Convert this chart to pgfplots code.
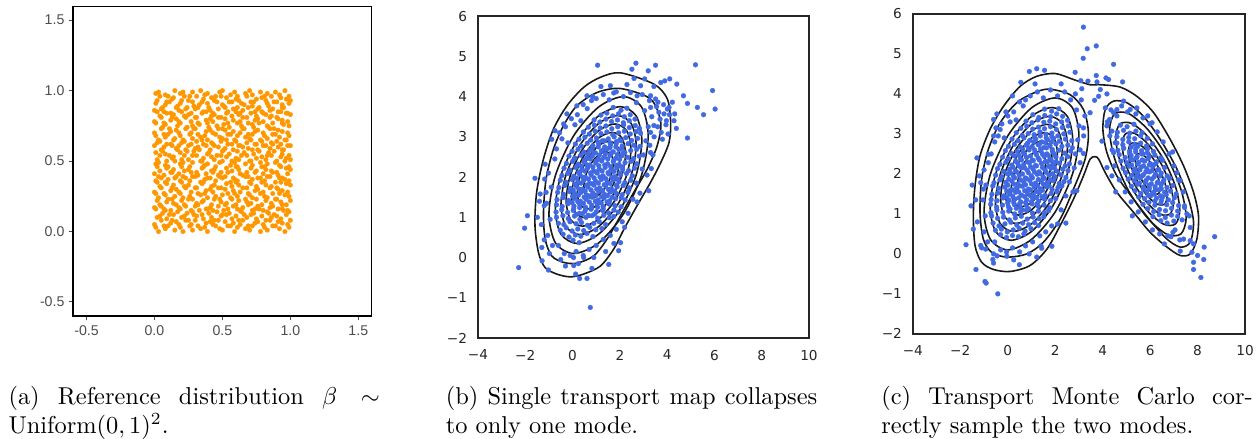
\documentclass[border=0pt]{standalone}
\usepackage{pgfplots}
\pgfplotsset{compat=1.18}
\usepackage{fontspec}
\newfontfamily\arialf{Liberation Sans}
\newfontfamily\dejavu{DejaVu Sans}
\definecolor{orng}{RGB}{255,152,0}
\definecolor{royal}{RGB}{65,105,225}
\definecolor{tickgray}{RGB}{77,77,77}
\definecolor{mplgray}{RGB}{38,38,38}
\definecolor{cline}{RGB}{25,25,25}
\pgfplotsset{
  mplaxis/.style={
    scale only axis, clip=false,
    xmin=-4, xmax=10, ymin=-2, ymax=6,
    xtick={-4,-2,0,2,4,6,8,10}, xticklabels={−4,−2,0,2,4,6,8,10},
    ytick={-2,-1,0,1,2,3,4,5,6}, yticklabels={−2,−1,0,1,2,3,4,5,6},
    major tick length=0pt,
    ticklabel style={font=\dejavu\fontsize{5.6}{6.5}\selectfont, text=mplgray},
    xticklabel style={anchor=north, inner sep=0pt, yshift=-4.7pt},
    yticklabel style={anchor=east, inner sep=0pt, xshift=-4.3pt},
    axis line style={mplgray, line width=0.55pt},
  },
  cont/.style={cline, line width=0.65pt, smooth cycle, no marks},
  bluepts/.style={only marks, royal, mark=*, mark size=1.0pt, mark options={solid, draw=royal, fill=royal, line width=0.1pt}},
}
\begin{document}
\begin{tikzpicture}
\path[use as bounding box] (0,0) rectangle (515pt,180pt);

% ---------------- panel (a)
\begin{axis}[
  at={(29.9pt,50.4pt)}, anchor=south west,
  width=122.6pt, height=127.1pt, scale only axis, clip=false,
  xmin=-0.6, xmax=1.6, ymin=-0.6, ymax=1.6,
  xtick={-0.5,0,0.5,1,1.5}, xticklabels={-0.5,0.0,0.5,1.0,1.5},
  ytick={-0.5,0,0.5,1,1.5}, yticklabels={-0.5,0.0,0.5,1.0,1.5},
  tick pos=left, tick align=outside, major tick length=1.8pt,
  tick style={tickgray, line width=0.4pt},
  ticklabel style={font=\arialf\fontsize{5.8}{7}\selectfont, text=tickgray},
  xticklabel style={inner sep=0pt, yshift=-2.0pt},
  yticklabel style={inner sep=0pt, xshift=-1.5pt},
  axis line style={black, line width=0.45pt},
]
\addplot[only marks, orng, mark=*, mark size=0.95pt, mark options={solid, draw=orng, fill=orng, line width=0.1pt}] table[row sep=\\] {
x y\\
0.01 0.03\\ 0.03 0.00\\ 0.08 0.02\\ 0.10 0.04\\ 0.15 0.01\\ 0.19 0.03\\ 0.21 0.00\\ 0.26 0.04\\ 0.28 0.01\\ 0.34 0.02\\ 0.37 0.03\\ 0.39 0.00\\ 0.45 0.04\\ 0.48 0.02\\ 0.50 0.01\\ 0.56 0.04\\ 0.59 0.00\\ 0.61 0.03\\ 0.67 0.02\\ 0.70 0.01\\ 0.72 0.04\\ 0.78 0.00\\ 0.81 0.03\\ 0.83 0.01\\ 0.89 0.04\\ 0.92 0.02\\ 0.96 0.00\\ 0.99 0.03\\
0.00 0.05\\ 0.05 0.08\\ 0.07 0.04\\ 0.12 0.06\\ 0.16 0.07\\ 0.18 0.05\\ 0.23 0.08\\ 0.27 0.05\\ 0.30 0.08\\ 0.32 0.04\\ 0.38 0.06\\ 0.41 0.07\\ 0.43 0.05\\ 0.47 0.08\\ 0.52 0.07\\ 0.54 0.04\\ 0.58 0.06\\ 0.63 0.05\\ 0.65 0.08\\ 0.69 0.04\\ 0.74 0.06\\ 0.76 0.07\\ 0.80 0.05\\ 0.85 0.08\\ 0.87 0.04\\ 0.91 0.07\\ 0.94 0.06\\ 0.98 0.05\\
0.02 0.10\\ 0.04 0.11\\ 0.09 0.09\\ 0.13 0.08\\ 0.14 0.12\\ 0.20 0.10\\ 0.22 0.11\\ 0.25 0.08\\ 0.31 0.11\\ 0.35 0.12\\ 0.36 0.09\\ 0.42 0.10\\ 0.44 0.08\\ 0.49 0.11\\ 0.53 0.12\\ 0.57 0.09\\ 0.60 0.11\\ 0.62 0.08\\ 0.68 0.10\\ 0.71 0.12\\ 0.75 0.09\\ 0.79 0.11\\ 0.82 0.08\\ 0.86 0.10\\ 0.90 0.11\\ 0.93 0.09\\ 0.97 0.12\\ 1.00 0.08\\
0.01 0.16\\ 0.06 0.13\\ 0.08 0.15\\ 0.11 0.12\\ 0.17 0.14\\ 0.19 0.16\\ 0.24 0.13\\ 0.28 0.14\\ 0.29 0.12\\ 0.33 0.15\\ 0.39 0.16\\ 0.40 0.13\\ 0.46 0.14\\ 0.50 0.12\\ 0.51 0.15\\ 0.55 0.13\\ 0.61 0.16\\ 0.64 0.14\\ 0.66 0.12\\ 0.72 0.15\\ 0.73 0.13\\ 0.77 0.16\\ 0.83 0.14\\ 0.84 0.13\\ 0.88 0.12\\ 0.94 0.16\\ 0.95 0.15\\ 0.99 0.14\\
0.00 0.17\\ 0.05 0.18\\ 0.07 0.16\\ 0.12 0.15\\ 0.16 0.19\\ 0.18 0.17\\ 0.23 0.18\\ 0.27 0.15\\ 0.30 0.18\\ 0.32 0.19\\ 0.38 0.16\\ 0.41 0.17\\ 0.43 0.15\\ 0.47 0.18\\ 0.52 0.19\\ 0.54 0.16\\ 0.58 0.18\\ 0.63 0.15\\ 0.65 0.17\\ 0.69 0.19\\ 0.74 0.16\\ 0.76 0.18\\ 0.80 0.15\\ 0.85 0.17\\ 0.87 0.18\\ 0.91 0.16\\ 0.94 0.19\\ 0.98 0.15\\
0.02 0.22\\ 0.04 0.19\\ 0.09 0.21\\ 0.13 0.23\\ 0.14 0.20\\ 0.20 0.22\\ 0.22 0.19\\ 0.25 0.23\\ 0.31 0.20\\ 0.35 0.21\\ 0.36 0.22\\ 0.42 0.19\\ 0.44 0.23\\ 0.49 0.21\\ 0.53 0.20\\ 0.57 0.23\\ 0.60 0.19\\ 0.62 0.22\\ 0.68 0.21\\ 0.71 0.20\\ 0.75 0.23\\ 0.79 0.19\\ 0.82 0.22\\ 0.86 0.20\\ 0.90 0.23\\ 0.93 0.21\\ 0.97 0.19\\ 1.00 0.22\\
0.01 0.27\\ 0.03 0.24\\ 0.08 0.26\\ 0.10 0.23\\ 0.15 0.25\\ 0.19 0.27\\ 0.21 0.24\\ 0.26 0.25\\ 0.28 0.23\\ 0.34 0.26\\ 0.37 0.27\\ 0.39 0.24\\ 0.45 0.25\\ 0.48 0.23\\ 0.50 0.26\\ 0.56 0.24\\ 0.59 0.27\\ 0.61 0.25\\ 0.67 0.23\\ 0.70 0.26\\ 0.72 0.24\\ 0.78 0.27\\ 0.81 0.25\\ 0.83 0.24\\ 0.89 0.23\\ 0.92 0.27\\ 0.96 0.26\\ 0.99 0.25\\
0.00 0.28\\ 0.05 0.31\\ 0.07 0.27\\ 0.12 0.29\\ 0.16 0.30\\ 0.18 0.28\\ 0.23 0.31\\ 0.27 0.28\\ 0.30 0.31\\ 0.32 0.27\\ 0.38 0.29\\ 0.41 0.30\\ 0.43 0.28\\ 0.47 0.31\\ 0.52 0.30\\ 0.54 0.27\\ 0.58 0.29\\ 0.63 0.28\\ 0.65 0.31\\ 0.69 0.27\\ 0.74 0.29\\ 0.76 0.30\\ 0.80 0.28\\ 0.85 0.31\\ 0.87 0.27\\ 0.91 0.30\\ 0.94 0.29\\ 0.98 0.28\\
0.02 0.35\\ 0.04 0.32\\ 0.09 0.34\\ 0.13 0.31\\ 0.14 0.33\\ 0.20 0.35\\ 0.22 0.32\\ 0.25 0.33\\ 0.31 0.31\\ 0.35 0.34\\ 0.36 0.35\\ 0.42 0.32\\ 0.44 0.33\\ 0.49 0.31\\ 0.53 0.34\\ 0.57 0.32\\ 0.60 0.35\\ 0.62 0.33\\ 0.68 0.31\\ 0.71 0.34\\ 0.75 0.32\\ 0.79 0.35\\ 0.82 0.33\\ 0.86 0.32\\ 0.90 0.31\\ 0.93 0.35\\ 0.97 0.34\\ 1.00 0.33\\
0.01 0.36\\ 0.03 0.39\\ 0.08 0.35\\ 0.10 0.37\\ 0.15 0.38\\ 0.19 0.36\\ 0.21 0.39\\ 0.26 0.36\\ 0.28 0.39\\ 0.34 0.35\\ 0.37 0.37\\ 0.39 0.38\\ 0.45 0.36\\ 0.48 0.39\\ 0.50 0.38\\ 0.56 0.35\\ 0.59 0.37\\ 0.61 0.36\\ 0.67 0.39\\ 0.70 0.35\\ 0.72 0.37\\ 0.78 0.38\\ 0.81 0.36\\ 0.83 0.39\\ 0.89 0.35\\ 0.92 0.38\\ 0.96 0.37\\ 0.99 0.36\\
0.00 0.41\\ 0.05 0.38\\ 0.07 0.40\\ 0.12 0.42\\ 0.16 0.39\\ 0.18 0.41\\ 0.23 0.38\\ 0.27 0.42\\ 0.30 0.39\\ 0.32 0.40\\ 0.38 0.41\\ 0.41 0.38\\ 0.43 0.42\\ 0.47 0.40\\ 0.52 0.39\\ 0.54 0.42\\ 0.58 0.38\\ 0.63 0.41\\ 0.65 0.40\\ 0.69 0.39\\ 0.74 0.42\\ 0.76 0.38\\ 0.80 0.41\\ 0.85 0.39\\ 0.87 0.42\\ 0.91 0.40\\ 0.94 0.38\\ 0.98 0.41\\
0.02 0.46\\ 0.04 0.43\\ 0.09 0.45\\ 0.13 0.42\\ 0.14 0.44\\ 0.20 0.46\\ 0.22 0.43\\ 0.25 0.44\\ 0.31 0.42\\ 0.35 0.45\\ 0.36 0.46\\ 0.42 0.43\\ 0.44 0.44\\ 0.49 0.42\\ 0.53 0.45\\ 0.57 0.43\\ 0.60 0.46\\ 0.62 0.44\\ 0.68 0.42\\ 0.71 0.45\\ 0.75 0.43\\ 0.79 0.46\\ 0.82 0.44\\ 0.86 0.43\\ 0.90 0.42\\ 0.93 0.46\\ 0.97 0.45\\ 1.00 0.44\\
0.01 0.48\\ 0.03 0.49\\ 0.08 0.47\\ 0.10 0.46\\ 0.15 0.50\\ 0.19 0.48\\ 0.21 0.49\\ 0.26 0.46\\ 0.28 0.49\\ 0.34 0.50\\ 0.37 0.47\\ 0.39 0.48\\ 0.45 0.46\\ 0.48 0.49\\ 0.50 0.50\\ 0.56 0.47\\ 0.59 0.49\\ 0.61 0.46\\ 0.67 0.48\\ 0.70 0.50\\ 0.72 0.47\\ 0.78 0.49\\ 0.81 0.46\\ 0.83 0.48\\ 0.89 0.49\\ 0.92 0.47\\ 0.96 0.50\\ 0.99 0.46\\
0.02 0.51\\ 0.04 0.54\\ 0.09 0.50\\ 0.13 0.52\\ 0.14 0.53\\ 0.20 0.51\\ 0.22 0.54\\ 0.25 0.51\\ 0.31 0.54\\ 0.35 0.50\\ 0.36 0.52\\ 0.42 0.53\\ 0.44 0.51\\ 0.49 0.54\\ 0.53 0.53\\ 0.57 0.50\\ 0.60 0.52\\ 0.62 0.51\\ 0.68 0.54\\ 0.71 0.50\\ 0.75 0.52\\ 0.79 0.53\\ 0.82 0.51\\ 0.86 0.54\\ 0.90 0.50\\ 0.93 0.53\\ 0.97 0.52\\ 1.00 0.51\\
0.01 0.56\\ 0.06 0.57\\ 0.08 0.55\\ 0.11 0.54\\ 0.17 0.58\\ 0.19 0.56\\ 0.24 0.57\\ 0.28 0.54\\ 0.29 0.57\\ 0.33 0.58\\ 0.39 0.55\\ 0.40 0.56\\ 0.46 0.54\\ 0.50 0.57\\ 0.51 0.58\\ 0.55 0.55\\ 0.61 0.57\\ 0.64 0.54\\ 0.66 0.56\\ 0.72 0.58\\ 0.73 0.55\\ 0.77 0.57\\ 0.83 0.54\\ 0.84 0.56\\ 0.88 0.57\\ 0.94 0.55\\ 0.95 0.58\\ 0.99 0.54\\
0.00 0.61\\ 0.05 0.58\\ 0.07 0.60\\ 0.12 0.62\\ 0.16 0.59\\ 0.18 0.61\\ 0.23 0.58\\ 0.27 0.62\\ 0.30 0.59\\ 0.32 0.60\\ 0.38 0.61\\ 0.41 0.58\\ 0.43 0.62\\ 0.47 0.60\\ 0.52 0.59\\ 0.54 0.62\\ 0.58 0.58\\ 0.63 0.61\\ 0.65 0.60\\ 0.69 0.59\\ 0.74 0.62\\ 0.76 0.58\\ 0.80 0.61\\ 0.85 0.59\\ 0.87 0.62\\ 0.91 0.60\\ 0.94 0.58\\ 0.98 0.61\\
0.02 0.63\\ 0.04 0.64\\ 0.09 0.62\\ 0.13 0.61\\ 0.14 0.65\\ 0.20 0.63\\ 0.22 0.64\\ 0.25 0.61\\ 0.31 0.64\\ 0.35 0.65\\ 0.36 0.62\\ 0.42 0.63\\ 0.44 0.61\\ 0.49 0.64\\ 0.53 0.65\\ 0.57 0.62\\ 0.60 0.64\\ 0.62 0.61\\ 0.68 0.63\\ 0.71 0.65\\ 0.75 0.62\\ 0.79 0.64\\ 0.82 0.61\\ 0.86 0.63\\ 0.90 0.64\\ 0.93 0.62\\ 0.97 0.65\\ 1.00 0.61\\
0.01 0.68\\ 0.03 0.65\\ 0.08 0.67\\ 0.10 0.69\\ 0.15 0.66\\ 0.19 0.68\\ 0.21 0.65\\ 0.26 0.69\\ 0.28 0.66\\ 0.34 0.67\\ 0.37 0.68\\ 0.39 0.65\\ 0.45 0.69\\ 0.48 0.67\\ 0.50 0.66\\ 0.56 0.69\\ 0.59 0.65\\ 0.61 0.68\\ 0.67 0.67\\ 0.70 0.66\\ 0.72 0.69\\ 0.78 0.65\\ 0.81 0.68\\ 0.83 0.66\\ 0.89 0.69\\ 0.92 0.67\\ 0.96 0.65\\ 0.99 0.68\\
0.00 0.70\\ 0.05 0.73\\ 0.07 0.69\\ 0.12 0.71\\ 0.16 0.72\\ 0.18 0.70\\ 0.23 0.73\\ 0.27 0.70\\ 0.30 0.73\\ 0.32 0.69\\ 0.38 0.71\\ 0.41 0.72\\ 0.43 0.70\\ 0.47 0.73\\ 0.52 0.72\\ 0.54 0.69\\ 0.58 0.71\\ 0.63 0.70\\ 0.65 0.73\\ 0.69 0.69\\ 0.74 0.71\\ 0.76 0.72\\ 0.80 0.70\\ 0.85 0.73\\ 0.87 0.69\\ 0.91 0.72\\ 0.94 0.71\\ 0.98 0.70\\
0.01 0.77\\ 0.06 0.74\\ 0.08 0.76\\ 0.11 0.73\\ 0.17 0.75\\ 0.19 0.77\\ 0.24 0.74\\ 0.28 0.75\\ 0.29 0.73\\ 0.33 0.76\\ 0.39 0.77\\ 0.40 0.74\\ 0.46 0.75\\ 0.50 0.73\\ 0.51 0.76\\ 0.55 0.74\\ 0.61 0.77\\ 0.64 0.75\\ 0.66 0.73\\ 0.72 0.76\\ 0.73 0.74\\ 0.77 0.77\\ 0.83 0.75\\ 0.84 0.74\\ 0.88 0.73\\ 0.94 0.77\\ 0.95 0.76\\ 0.99 0.75\\
0.00 0.78\\ 0.05 0.81\\ 0.07 0.77\\ 0.12 0.79\\ 0.16 0.80\\ 0.18 0.78\\ 0.23 0.81\\ 0.27 0.78\\ 0.30 0.81\\ 0.32 0.77\\ 0.38 0.79\\ 0.41 0.80\\ 0.43 0.78\\ 0.47 0.81\\ 0.52 0.80\\ 0.54 0.77\\ 0.58 0.79\\ 0.63 0.78\\ 0.65 0.81\\ 0.69 0.77\\ 0.74 0.79\\ 0.76 0.80\\ 0.80 0.78\\ 0.85 0.81\\ 0.87 0.77\\ 0.91 0.80\\ 0.94 0.79\\ 0.98 0.78\\
0.02 0.85\\ 0.04 0.82\\ 0.09 0.84\\ 0.13 0.81\\ 0.14 0.83\\ 0.20 0.85\\ 0.22 0.82\\ 0.25 0.83\\ 0.31 0.81\\ 0.35 0.84\\ 0.36 0.85\\ 0.42 0.82\\ 0.44 0.83\\ 0.49 0.81\\ 0.53 0.84\\ 0.57 0.82\\ 0.60 0.85\\ 0.62 0.83\\ 0.68 0.81\\ 0.71 0.84\\ 0.75 0.82\\ 0.79 0.85\\ 0.82 0.83\\ 0.86 0.82\\ 0.90 0.81\\ 0.93 0.85\\ 0.97 0.84\\ 1.00 0.83\\
0.00 0.86\\ 0.05 0.87\\ 0.07 0.85\\ 0.12 0.84\\ 0.16 0.88\\ 0.18 0.86\\ 0.23 0.87\\ 0.27 0.84\\ 0.30 0.87\\ 0.32 0.88\\ 0.38 0.85\\ 0.41 0.86\\ 0.43 0.84\\ 0.47 0.87\\ 0.52 0.88\\ 0.54 0.85\\ 0.58 0.87\\ 0.63 0.84\\ 0.65 0.86\\ 0.69 0.88\\ 0.74 0.85\\ 0.76 0.87\\ 0.80 0.84\\ 0.85 0.86\\ 0.87 0.87\\ 0.91 0.85\\ 0.94 0.88\\ 0.98 0.84\\
0.01 0.91\\ 0.06 0.88\\ 0.08 0.90\\ 0.11 0.92\\ 0.17 0.89\\ 0.19 0.91\\ 0.24 0.88\\ 0.28 0.92\\ 0.29 0.89\\ 0.33 0.90\\ 0.39 0.91\\ 0.40 0.88\\ 0.46 0.92\\ 0.50 0.90\\ 0.51 0.89\\ 0.55 0.92\\ 0.61 0.88\\ 0.64 0.91\\ 0.66 0.90\\ 0.72 0.89\\ 0.73 0.92\\ 0.77 0.88\\ 0.83 0.91\\ 0.84 0.89\\ 0.88 0.92\\ 0.94 0.90\\ 0.95 0.88\\ 0.99 0.91\\
0.02 0.93\\ 0.04 0.96\\ 0.09 0.92\\ 0.13 0.94\\ 0.14 0.95\\ 0.20 0.93\\ 0.22 0.96\\ 0.25 0.93\\ 0.31 0.96\\ 0.35 0.92\\ 0.36 0.94\\ 0.42 0.95\\ 0.44 0.93\\ 0.49 0.96\\ 0.53 0.95\\ 0.57 0.92\\ 0.60 0.94\\ 0.62 0.93\\ 0.68 0.96\\ 0.71 0.92\\ 0.75 0.94\\ 0.79 0.95\\ 0.82 0.93\\ 0.86 0.96\\ 0.90 0.92\\ 0.93 0.95\\ 0.97 0.94\\ 1.00 0.93\\
0.01 0.98\\ 0.03 0.99\\ 0.08 0.97\\ 0.10 0.96\\ 0.15 1.00\\ 0.19 0.98\\ 0.21 0.99\\ 0.26 0.96\\ 0.28 0.99\\ 0.34 1.00\\ 0.37 0.97\\ 0.39 0.98\\ 0.45 0.96\\ 0.48 0.99\\ 0.50 1.00\\ 0.56 0.97\\ 0.59 0.99\\ 0.61 0.96\\ 0.67 0.98\\ 0.70 1.00\\ 0.72 0.97\\ 0.78 0.99\\ 0.81 0.96\\ 0.83 0.98\\ 0.89 0.99\\ 0.92 0.97\\ 0.96 1.00\\ 0.99 0.96\\
};
\draw[black, line width=0.95pt] (rel axis cs:0,1) -- (rel axis cs:0,0) -- (rel axis cs:1,0);
\end{axis}

% ---------------- panel (b)
\begin{axis}[mplaxis, at={(196pt,41.4pt)}, anchor=south west, width=135.7pt, height=132pt]
\addplot[cont] coordinates {(2.03,4.59) (3.44,4.31) (4.01,3.94) (4.15,3.36) (4.08,2.86) (3.73,2.36) (3.30,1.87) (2.73,1.29) (2.17,0.70) (1.74,0.21) (1.18,-0.21) (0.47,-0.41) (-0.10,-0.48) (-0.67,-0.41) (-1.16,-0.25) (-1.44,0.12) (-1.59,0.79) (-1.52,1.62) (-1.23,2.45) (-0.81,3.19) (-0.24,3.77) (0.47,4.23) (1.18,4.48)};
\addplot[cont] coordinates {(2.03,4.20) (3.30,3.94) (3.73,3.36) (3.58,2.78) (3.16,2.20) (2.59,1.62) (2.03,1.04) (1.46,0.46) (0.89,0.04) (0.18,-0.14) (-0.38,-0.12) (-0.88,0.04) (-1.16,0.46) (-1.23,1.12) (-1.12,1.95) (-0.81,2.69) (-0.38,3.28) (0.18,3.77) (1.03,4.10)};
\addplot[cont] coordinates {(3.20,3.03) (2.92,3.74) (2.15,4.00) (1.10,3.74) (0.05,3.03) (-0.72,2.05) (-1.00,1.08) (-0.72,0.36) (0.05,0.10) (1.10,0.36) (2.15,1.08) (2.92,2.05)};
\addplot[cont] coordinates {(2.93,2.90) (2.69,3.52) (2.02,3.75) (1.10,3.52) (0.19,2.90) (-0.49,2.05) (-0.73,1.20) (-0.49,0.58) (0.19,0.35) (1.10,0.58) (2.02,1.20) (2.69,2.05)};
\addplot[cont] coordinates {(2.69,2.79) (2.48,3.33) (1.90,3.53) (1.10,3.33) (0.31,2.79) (-0.28,2.05) (-0.49,1.31) (-0.28,0.77) (0.31,0.57) (1.10,0.77) (1.90,1.31) (2.48,2.05)};
\addplot[cont] coordinates {(2.47,2.69) (2.29,3.15) (1.79,3.32) (1.10,3.15) (0.42,2.69) (-0.09,2.05) (-0.27,1.42) (-0.09,0.95) (0.42,0.78) (1.10,0.95) (1.79,1.42) (2.29,2.05)};
\addplot[cont] coordinates {(2.24,2.58) (2.09,2.97) (1.67,3.11) (1.10,2.97) (0.53,2.58) (0.11,2.05) (-0.04,1.52) (0.11,1.13) (0.53,0.99) (1.10,1.13) (1.67,1.52) (2.09,2.05)};
\addplot[cont] coordinates {(2.00,2.47) (1.88,2.78) (1.55,2.89) (1.10,2.78) (0.65,2.47) (0.32,2.05) (0.20,1.63) (0.32,1.32) (0.65,1.21) (1.10,1.32) (1.55,1.63) (1.88,2.05)};
\addplot[cont] coordinates {(1.72,2.34) (1.64,2.55) (1.41,2.63) (1.10,2.55) (0.79,2.34) (0.56,2.05) (0.48,1.76) (0.56,1.55) (0.79,1.47) (1.10,1.55) (1.41,1.76) (1.64,2.05)};
\addplot[bluepts] table[row sep=\\] {
x y\\
0.02 0.43\\ 0.28 0.37\\
-0.40 0.58\\ -0.15 0.51\\ 0.12 0.56\\ 0.35 0.53\\ 0.61 0.60\\ 0.86 0.52\\
-0.52 0.68\\ -0.27 0.74\\ -0.02 0.66\\ 0.22 0.71\\ 0.47 0.67\\ 0.73 0.75\\ 0.98 0.69\\ 1.24 0.72\\
-0.60 0.85\\ -0.37 0.82\\ -0.11 0.89\\ 0.15 0.84\\ 0.38 0.87\\ 0.63 0.80\\ 0.90 0.85\\ 1.13 0.89\\ 1.40 0.82\\
-0.68 1.00\\ -0.41 1.04\\ -0.18 0.97\\ 0.08 1.03\\ 0.31 0.95\\ 0.57 1.00\\ 0.82 1.04\\ 1.06 0.98\\ 1.32 1.05\\ 1.55 0.99\\ 1.74 1.02\\
-0.70 1.13\\ -0.46 1.19\\ -0.21 1.12\\ 0.03 1.17\\ 0.29 1.10\\ 0.52 1.15\\ 0.78 1.20\\ 1.01 1.14\\ 1.27 1.17\\ 1.52 1.11\\ 1.75 1.18\\ 1.93 1.13\\
-0.68 1.31\\ -0.44 1.27\\ -0.19 1.34\\ 0.06 1.28\\ 0.30 1.32\\ 0.55 1.25\\ 0.81 1.30\\ 1.04 1.34\\ 1.29 1.27\\ 1.55 1.33\\ 1.79 1.29\\ 2.05 1.26\\
-0.66 1.44\\ -0.40 1.49\\ -0.17 1.42\\ 0.09 1.47\\ 0.33 1.40\\ 0.58 1.45\\ 0.83 1.50\\ 1.08 1.43\\ 1.33 1.48\\ 1.57 1.41\\ 1.82 1.46\\ 2.06 1.49\\ 2.22 1.43\\
-0.63 1.62\\ -0.38 1.57\\ -0.13 1.64\\ 0.12 1.58\\ 0.36 1.62\\ 0.61 1.55\\ 0.86 1.60\\ 1.11 1.64\\ 1.35 1.57\\ 1.60 1.63\\ 1.85 1.59\\ 2.10 1.56\\ 2.34 1.62\\
-0.58 1.74\\ -0.33 1.79\\ -0.09 1.72\\ 0.16 1.77\\ 0.41 1.70\\ 0.65 1.75\\ 0.90 1.80\\ 1.15 1.73\\ 1.40 1.78\\ 1.64 1.71\\ 1.89 1.76\\ 2.14 1.79\\ 2.40 1.73\\
-0.52 1.92\\ -0.27 1.87\\ -0.02 1.94\\ 0.23 1.88\\ 0.47 1.92\\ 0.72 1.85\\ 0.97 1.90\\ 1.22 1.94\\ 1.46 1.87\\ 1.71 1.93\\ 1.96 1.89\\ 2.21 1.86\\ 2.46 1.92\\
-0.45 2.04\\ -0.20 2.09\\ 0.05 2.02\\ 0.30 2.07\\ 0.54 2.00\\ 0.79 2.05\\ 1.04 2.10\\ 1.29 2.03\\ 1.53 2.08\\ 1.78 2.01\\ 2.03 2.06\\ 2.28 2.09\\ 2.53 2.03\\
-0.36 2.22\\ -0.11 2.17\\ 0.14 2.24\\ 0.39 2.18\\ 0.63 2.22\\ 0.88 2.15\\ 1.13 2.20\\ 1.38 2.24\\ 1.62 2.17\\ 1.87 2.23\\ 2.12 2.19\\ 2.37 2.16\\ 2.62 2.22\\
-0.26 2.34\\ 0.00 2.39\\ 0.24 2.32\\ 0.49 2.37\\ 0.73 2.30\\ 0.98 2.35\\ 1.23 2.40\\ 1.48 2.33\\ 1.72 2.38\\ 1.97 2.31\\ 2.22 2.36\\ 2.47 2.39\\ 2.72 2.33\\
-0.15 2.52\\ 0.10 2.47\\ 0.35 2.54\\ 0.60 2.48\\ 0.84 2.52\\ 1.09 2.45\\ 1.34 2.50\\ 1.59 2.54\\ 1.83 2.47\\ 2.08 2.53\\ 2.33 2.49\\ 2.58 2.46\\ 2.82 2.52\\
-0.02 2.64\\ 0.23 2.69\\ 0.48 2.62\\ 0.73 2.67\\ 0.97 2.60\\ 1.22 2.65\\ 1.47 2.70\\ 1.72 2.63\\ 1.96 2.68\\ 2.21 2.61\\ 2.46 2.66\\ 2.71 2.69\\
0.12 2.82\\ 0.37 2.77\\ 0.62 2.84\\ 0.86 2.78\\ 1.11 2.82\\ 1.36 2.75\\ 1.61 2.80\\ 1.85 2.84\\ 2.10 2.77\\ 2.35 2.83\\ 2.60 2.79\\ 2.85 2.76\\
0.27 2.94\\ 0.52 2.99\\ 0.77 2.92\\ 1.01 2.97\\ 1.26 2.90\\ 1.51 2.95\\ 1.76 3.00\\ 2.00 2.93\\ 2.25 2.98\\ 2.50 2.91\\ 2.75 2.96\\
0.46 3.12\\ 0.71 3.07\\ 0.96 3.14\\ 1.20 3.08\\ 1.45 3.12\\ 1.70 3.05\\ 1.95 3.10\\ 2.19 3.14\\ 2.44 3.07\\ 2.69 3.13\\ 2.88 3.09\\
0.67 3.24\\ 0.92 3.29\\ 1.17 3.22\\ 1.41 3.27\\ 1.66 3.20\\ 1.91 3.25\\ 2.16 3.30\\ 2.40 3.23\\ 2.65 3.28\\ 2.83 3.21\\
0.91 3.42\\ 1.16 3.37\\ 1.41 3.44\\ 1.65 3.38\\ 1.90 3.42\\ 2.15 3.35\\ 2.40 3.40\\ 2.64 3.44\\
1.20 3.54\\ 1.45 3.59\\ 1.70 3.52\\ 1.94 3.57\\ 2.19 3.50\\ 2.44 3.55\\
1.72 3.73\\ 2.05 3.66\\ 2.30 3.71\\
0.15 1.07\\ 0.42 1.09\\ 0.66 1.05\\ 0.93 1.08\\
0.05 1.22\\ 0.30 1.24\\ 0.55 1.20\\ 0.80 1.23\\ 1.06 1.25\\ 1.30 1.21\\
-0.02 1.37\\ 0.22 1.39\\ 0.46 1.35\\ 0.71 1.38\\ 0.96 1.40\\ 1.21 1.36\\ 1.46 1.38\\
0.00 1.52\\ 0.25 1.55\\ 0.49 1.50\\ 0.74 1.53\\ 0.99 1.55\\ 1.23 1.51\\ 1.48 1.54\\ 1.68 1.50\\
0.03 1.67\\ 0.28 1.70\\ 0.53 1.65\\ 0.78 1.68\\ 1.02 1.70\\ 1.27 1.66\\ 1.52 1.69\\ 1.77 1.65\\
0.10 1.82\\ 0.35 1.85\\ 0.60 1.80\\ 0.84 1.83\\ 1.09 1.85\\ 1.34 1.81\\ 1.59 1.84\\ 1.84 1.80\\
0.17 1.97\\ 0.42 2.00\\ 0.67 1.95\\ 0.91 1.98\\ 1.16 2.00\\ 1.41 1.96\\ 1.66 1.99\\ 1.91 1.95\\
0.26 2.12\\ 0.51 2.15\\ 0.76 2.10\\ 1.00 2.13\\ 1.25 2.15\\ 1.50 2.11\\ 1.75 2.14\\ 2.00 2.10\\
0.37 2.27\\ 0.62 2.30\\ 0.86 2.25\\ 1.11 2.28\\ 1.36 2.30\\ 1.61 2.26\\ 1.86 2.29\\ 2.11 2.25\\
0.50 2.42\\ 0.75 2.45\\ 1.00 2.40\\ 1.24 2.43\\ 1.49 2.45\\ 1.74 2.41\\ 1.99 2.44\\
0.65 2.57\\ 0.90 2.60\\ 1.14 2.55\\ 1.39 2.58\\ 1.64 2.60\\ 1.89 2.56\\ 2.13 2.59\\
0.84 2.72\\ 1.09 2.75\\ 1.33 2.70\\ 1.58 2.73\\ 1.83 2.75\\ 2.08 2.71\\
1.08 2.87\\ 1.34 2.90\\ 1.59 2.85\\ 1.85 2.88\\ 2.05 2.90\\
-1.05 0.55\\ -0.95 0.95\\ -1.10 1.35\\ -0.90 1.75\\ -1.02 2.10\\ -0.75 2.45\\ -1.32 0.82\\ -0.85 0.30\\ -1.18 1.95\\ -0.68 2.70\\ -1.40 1.40\\ -0.98 0.10\\
-0.45 2.95\\ -0.30 3.25\\ -0.05 3.45\\ 0.20 3.55\\ 0.45 3.80\\ -0.55 3.10\\ 0.10 3.30\\ 0.62 3.70\\ 0.35 3.40\\ -0.20 2.85\\
1.00 3.95\\ 1.30 4.05\\ 1.55 3.92\\ 1.85 4.12\\ 2.15 4.00\\ 2.45 4.10\\ 2.70 3.85\\ 1.20 4.25\\ 2.30 4.30\\ 2.95 4.05\\ 0.80 3.90\\ 2.60 4.45\\
3.05 3.65\\ 3.20 3.25\\ 3.10 2.90\\ 3.00 2.55\\ 2.95 2.20\\ 2.70 1.85\\ 2.55 1.45\\ 2.35 1.10\\ 2.20 0.75\\ 3.35 3.50\\ 3.45 3.00\\ 3.40 2.55\\ 3.15 2.05\\ 2.85 1.60\\ 3.60 3.25\\ 3.55 3.75\\ 3.85 3.80\\ 3.95 3.30\\ 3.25 3.90\\ 4.10 3.55\\
-0.60 0.30\\ -0.35 0.10\\ -0.10 0.05\\ 0.15 0.15\\ 0.45 0.05\\ 0.70 0.20\\ 1.00 0.30\\ 1.30 0.45\\ 1.60 0.55\\ 1.85 0.70\\ 0.25 -0.15\\ 0.90 0.00\\ 1.40 0.15\\ -0.50 -0.05\\ 0.05 -0.20\\ 1.75 0.35\\
-1.59 1.97\\ -1.91 1.04\\ -2.03 0.73\\ -2.28 -0.25\\ -1.49 1.00\\ -1.30 0.25\\ -1.29 -0.08\\ -1.02 -0.31\\ -1.20 0.44\\ -1.12 1.62\\ -1.20 1.29\\ -1.37 1.58\\ -1.16 2.32\\ -0.88 2.94\\ -0.74 3.15\\ -0.38 3.32\\ -0.24 3.57\\ 0.18 3.77\\ 0.61 4.02\\ 0.85 4.00\\ 1.06 4.78\\ 1.60 4.27\\ 1.74 4.09\\ 2.51 4.68\\ 2.68 4.83\\ 3.20 4.64\\ 3.51 4.78\\ 3.05 4.44\\ 3.44 4.25\\ 3.73 4.35\\ 3.90 4.39\\ 4.11 4.44\\ 4.41 4.31\\ 4.69 4.02\\ 4.86 3.83\\ 5.28 3.73\\ 5.54 3.55\\ 5.20 4.79\\ 5.92 4.15\\ 6.03 3.69\\ 4.86 2.97\\ 4.39 3.21\\ 4.04 3.07\\ 3.80 2.94\\ 4.29 3.40\\ 4.32 3.57\\ 3.87 3.57\\ 4.08 3.73\\ 3.61 3.86\\ 3.30 3.73\\ 3.70 3.44\\ 3.27 2.79\\ 3.33 2.21\\ 3.22 1.66\\ 2.73 1.38\\ 2.10 0.89\\ 2.03 0.37\\ 1.95 0.17\\ 1.53 -0.17\\ 0.82 -0.27\\ 0.61 -0.52\\ 0.30 -0.52\\ 0.13 -0.41\\ 0.75 -1.24\\ 0.47 0.00\\ -0.30 -0.21\\ 0.04 0.00\\
2.88 4.27\\ 2.73 4.02\\ 3.30 4.02\\ 3.51 3.94\\ 4.01 3.69\\ 4.22 3.86\\ 3.65 3.61\\ 3.97 3.40\\ 3.44 3.28\\ 3.75 3.11\\ 3.30 3.11\\ 3.30 2.61\\
};
\end{axis}

% ---------------- panel (c)
\begin{axis}[mplaxis, at={(374.3pt,43.1pt)}, anchor=south west, width=136.2pt, height=131.2pt]
\addplot[cont] coordinates {(2.00,4.51) (2.77,4.36) (3.47,4.23) (3.90,4.23) (4.74,4.17) (5.44,3.94) (6.15,3.53) (6.85,2.86) (7.41,2.20) (7.83,1.54) (8.04,0.95) (7.97,0.37) (7.69,0.00) (7.27,-0.04) (6.71,0.17) (6.00,0.54) (5.30,1.04) (4.60,1.54) (4.11,2.03) (3.83,2.37) (3.68,2.43) (3.47,2.37) (3.19,1.95) (2.77,1.37) (2.21,0.71) (1.65,0.12) (0.94,-0.29) (0.10,-0.44) (-0.60,-0.39) (-1.10,-0.21) (-1.38,0.21) (-1.45,0.95) (-1.38,1.70) (-1.17,2.45) (-0.75,3.11) (-0.18,3.69) (0.52,4.19) (1.22,4.44)};
\addplot[cont] coordinates {(1.72,4.12) (2.63,3.98) (3.19,3.61) (3.40,3.03) (3.26,2.37) (2.77,1.62) (2.21,0.87) (1.50,0.29) (0.80,0.00) (-0.04,-0.08) (-0.68,0.04) (-1.03,0.37) (-1.17,1.04) (-1.10,1.87) (-0.82,2.61) (-0.32,3.28) (0.38,3.78) (1.08,4.02)};
\addplot[cont] coordinates {(3.00,2.95) (2.73,3.65) (2.00,3.90) (1.00,3.65) (0.00,2.95) (-0.73,2.00) (-1.00,1.05) (-0.73,0.36) (0.00,0.10) (1.00,0.36) (2.00,1.05) (2.73,2.00)};
\addplot[cont] coordinates {(2.74,2.83) (2.51,3.44) (1.87,3.66) (1.00,3.44) (0.13,2.83) (-0.51,2.00) (-0.74,1.17) (-0.51,0.56) (0.13,0.34) (1.00,0.56) (1.87,1.17) (2.51,2.00)};
\addplot[cont] coordinates {(2.52,2.72) (2.31,3.25) (1.76,3.44) (1.00,3.25) (0.24,2.72) (-0.31,2.00) (-0.52,1.28) (-0.31,0.75) (0.24,0.56) (1.00,0.75) (1.76,1.28) (2.31,2.00)};
\addplot[cont] coordinates {(2.30,2.62) (2.13,3.07) (1.65,3.24) (1.00,3.07) (0.35,2.62) (-0.13,2.00) (-0.30,1.38) (-0.13,0.93) (0.35,0.76) (1.00,0.93) (1.65,1.38) (2.13,2.00)};
\addplot[cont] coordinates {(2.09,2.52) (1.94,2.90) (1.54,3.03) (1.00,2.90) (0.46,2.52) (0.06,2.00) (-0.09,1.48) (0.06,1.10) (0.46,0.97) (1.00,1.10) (1.54,1.48) (1.94,2.00)};
\addplot[cont] coordinates {(1.86,2.41) (1.75,2.71) (1.43,2.82) (1.00,2.71) (0.57,2.41) (0.26,2.00) (0.14,1.59) (0.26,1.29) (0.57,1.18) (1.00,1.29) (1.43,1.59) (1.75,2.00)};
\addplot[cont] coordinates {(1.59,2.28) (1.51,2.49) (1.30,2.56) (1.00,2.49) (0.70,2.28) (0.49,2.00) (0.41,1.72) (0.49,1.51) (0.70,1.44) (1.00,1.51) (1.30,1.72) (1.51,2.00)};
\addplot[cont] coordinates {(4.46,3.82) (5.02,3.78) (5.72,3.44) (6.43,2.86) (7.13,2.12) (7.62,1.37) (7.83,0.79) (7.69,0.29) (7.27,0.17) (6.71,0.37) (6.01,0.83) (5.30,1.37) (4.60,1.95) (4.18,2.53) (4.01,3.11) (4.11,3.61)};
\addplot[cont] coordinates {(7.52,0.91) (7.30,1.61) (6.71,2.42) (5.90,3.11) (5.09,3.51) (4.50,3.50) (4.29,3.09) (4.50,2.39) (5.09,1.58) (5.90,0.89) (6.71,0.49) (7.30,0.50)};
\addplot[cont] coordinates {(7.25,1.09) (7.07,1.68) (6.58,2.35) (5.90,2.93) (5.23,3.26) (4.73,3.25) (4.55,2.91) (4.73,2.32) (5.23,1.65) (5.90,1.07) (6.58,0.74) (7.07,0.75)};
\addplot[cont] coordinates {(6.98,1.27) (6.84,1.74) (6.44,2.28) (5.90,2.75) (5.36,3.01) (4.96,3.00) (4.82,2.73) (4.96,2.26) (5.36,1.72) (5.90,1.26) (6.44,0.99) (6.84,1.00)};
\addplot[cont] coordinates {(6.72,1.45) (6.61,1.80) (6.31,2.21) (5.90,2.56) (5.49,2.76) (5.19,2.76) (5.08,2.55) (5.19,2.20) (5.49,1.79) (5.90,1.44) (6.31,1.24) (6.61,1.24)};
\addplot[cont] coordinates {(6.43,1.64) (6.36,1.87) (6.17,2.14) (5.90,2.37) (5.63,2.50) (5.44,2.49) (5.37,2.36) (5.44,2.13) (5.63,1.87) (5.90,1.63) (6.17,1.50) (6.36,1.51)};
\addplot[bluepts] table[row sep=\\] {
x y\\
-0.30 0.48\\ -0.05 0.41\\ 0.20 0.46\\ 0.45 0.43\\ 0.68 0.50\\
-0.52 0.59\\ -0.27 0.62\\ -0.02 0.55\\ 0.23 0.60\\ 0.48 0.64\\ 0.73 0.57\\ 0.98 0.63\\
-0.62 0.77\\ -0.37 0.70\\ -0.12 0.75\\ 0.13 0.79\\ 0.38 0.72\\ 0.63 0.77\\ 0.88 0.73\\ 1.13 0.78\\ 1.30 0.71\\
-0.68 0.95\\ -0.43 0.89\\ -0.18 0.92\\ 0.07 0.85\\ 0.32 0.90\\ 0.57 0.94\\ 0.82 0.87\\ 1.07 0.92\\ 1.32 0.88\\ 1.52 0.93\\
-0.71 1.03\\ -0.46 1.10\\ -0.21 1.04\\ 0.04 1.07\\ 0.29 1.00\\ 0.54 1.05\\ 0.79 1.09\\ 1.04 1.02\\ 1.29 1.07\\ 1.54 1.03\\ 1.72 1.08\\
-0.72 1.24\\ -0.47 1.17\\ -0.22 1.22\\ 0.03 1.18\\ 0.28 1.23\\ 0.53 1.16\\ 0.78 1.21\\ 1.03 1.25\\ 1.28 1.19\\ 1.53 1.22\\ 1.78 1.15\\
-0.70 1.36\\ -0.45 1.33\\ -0.20 1.40\\ 0.05 1.34\\ 0.30 1.37\\ 0.55 1.30\\ 0.80 1.35\\ 1.05 1.39\\ 1.30 1.32\\ 1.55 1.37\\ 1.80 1.33\\ 2.02 1.38\\
-0.67 1.49\\ -0.42 1.52\\ -0.17 1.45\\ 0.08 1.50\\ 0.33 1.54\\ 0.58 1.47\\ 0.83 1.52\\ 1.08 1.48\\ 1.33 1.53\\ 1.58 1.46\\ 1.83 1.51\\ 2.08 1.55\\
-0.63 1.70\\ -0.38 1.64\\ -0.13 1.67\\ 0.12 1.60\\ 0.37 1.65\\ 0.62 1.69\\ 0.87 1.62\\ 1.12 1.67\\ 1.37 1.63\\ 1.62 1.68\\ 1.87 1.61\\ 2.12 1.66\\ 2.28 1.70\\
-0.58 1.78\\ -0.33 1.85\\ -0.08 1.79\\ 0.17 1.82\\ 0.42 1.75\\ 0.67 1.80\\ 0.92 1.84\\ 1.17 1.77\\ 1.42 1.82\\ 1.67 1.78\\ 1.92 1.83\\ 2.17 1.76\\ 2.37 1.81\\
-0.51 1.97\\ -0.26 1.93\\ -0.01 2.00\\ 0.24 1.94\\ 0.49 1.97\\ 0.74 1.90\\ 0.99 1.95\\ 1.24 1.99\\ 1.49 1.92\\ 1.74 1.97\\ 1.99 1.93\\ 2.24 1.98\\ 2.45 1.91\\
-0.43 2.13\\ -0.18 2.06\\ 0.07 2.11\\ 0.32 2.08\\ 0.57 2.15\\ 0.82 2.09\\ 1.07 2.12\\ 1.32 2.05\\ 1.57 2.10\\ 1.82 2.14\\ 2.07 2.07\\ 2.32 2.12\\ 2.54 2.08\\
-0.33 2.24\\ -0.08 2.29\\ 0.17 2.22\\ 0.42 2.27\\ 0.67 2.23\\ 0.92 2.28\\ 1.17 2.21\\ 1.42 2.26\\ 1.67 2.30\\ 1.92 2.24\\ 2.17 2.27\\ 2.42 2.20\\ 2.60 2.25\\
-0.22 2.42\\ 0.03 2.38\\ 0.28 2.45\\ 0.53 2.39\\ 0.78 2.42\\ 1.03 2.35\\ 1.28 2.40\\ 1.53 2.44\\ 1.78 2.37\\ 2.03 2.42\\ 2.28 2.38\\ 2.53 2.43\\
-0.10 2.58\\ 0.15 2.51\\ 0.40 2.56\\ 0.65 2.53\\ 0.90 2.60\\ 1.15 2.54\\ 1.40 2.57\\ 1.65 2.50\\ 1.90 2.55\\ 2.15 2.59\\ 2.40 2.52\\ 2.65 2.57\\
0.03 2.69\\ 0.28 2.74\\ 0.53 2.67\\ 0.78 2.72\\ 1.03 2.68\\ 1.28 2.73\\ 1.53 2.66\\ 1.78 2.71\\ 2.03 2.75\\ 2.28 2.69\\ 2.53 2.72\\ 2.72 2.65\\
0.18 2.87\\ 0.43 2.83\\ 0.68 2.90\\ 0.93 2.84\\ 1.18 2.87\\ 1.43 2.80\\ 1.68 2.85\\ 1.93 2.89\\ 2.18 2.82\\ 2.43 2.87\\ 2.70 2.83\\
0.36 3.03\\ 0.61 2.96\\ 0.86 3.01\\ 1.11 2.98\\ 1.36 3.05\\ 1.61 2.99\\ 1.86 3.02\\ 2.11 2.95\\ 2.36 3.00\\ 2.62 3.04\\
0.55 3.14\\ 0.80 3.19\\ 1.05 3.12\\ 1.30 3.17\\ 1.55 3.13\\ 1.80 3.18\\ 2.05 3.11\\ 2.30 3.16\\ 2.55 3.20\\
0.77 3.32\\ 1.02 3.28\\ 1.27 3.35\\ 1.52 3.29\\ 1.77 3.32\\ 2.02 3.25\\ 2.27 3.30\\ 2.52 3.34\\
1.06 3.48\\ 1.31 3.41\\ 1.56 3.46\\ 1.81 3.43\\ 2.06 3.50\\ 2.31 3.44\\
1.55 3.62\\ 1.85 3.57\\ 2.15 3.63\\
0.10 1.12\\ 0.36 1.14\\ 0.62 1.10\\ 0.88 1.13\\
0.00 1.27\\ 0.25 1.29\\ 0.50 1.25\\ 0.75 1.28\\ 1.00 1.30\\ 1.24 1.26\\
-0.04 1.42\\ 0.21 1.44\\ 0.46 1.40\\ 0.71 1.43\\ 0.96 1.45\\ 1.21 1.41\\ 1.44 1.43\\
-0.04 1.57\\ 0.21 1.60\\ 0.46 1.55\\ 0.71 1.58\\ 0.96 1.60\\ 1.21 1.56\\ 1.46 1.59\\
0.00 1.72\\ 0.25 1.75\\ 0.50 1.70\\ 0.75 1.73\\ 1.00 1.75\\ 1.25 1.71\\ 1.50 1.74\\ 1.74 1.70\\
0.04 1.87\\ 0.29 1.90\\ 0.54 1.85\\ 0.79 1.88\\ 1.04 1.90\\ 1.29 1.86\\ 1.54 1.89\\ 1.80 1.85\\
0.12 2.02\\ 0.37 2.05\\ 0.62 2.00\\ 0.87 2.03\\ 1.12 2.05\\ 1.37 2.01\\ 1.62 2.04\\ 1.88 2.00\\
0.21 2.17\\ 0.46 2.20\\ 0.71 2.15\\ 0.96 2.18\\ 1.21 2.20\\ 1.46 2.16\\ 1.71 2.19\\ 1.96 2.15\\
0.33 2.32\\ 0.58 2.35\\ 0.83 2.30\\ 1.08 2.33\\ 1.33 2.35\\ 1.58 2.31\\ 1.83 2.34\\ 2.02 2.30\\
0.46 2.47\\ 0.71 2.50\\ 0.96 2.45\\ 1.21 2.48\\ 1.46 2.50\\ 1.71 2.46\\ 1.96 2.49\\
0.63 2.62\\ 0.88 2.65\\ 1.13 2.60\\ 1.38 2.63\\ 1.63 2.65\\ 1.88 2.61\\
0.84 2.77\\ 1.09 2.80\\ 1.34 2.75\\ 1.59 2.78\\ 1.84 2.80\\
1.12 2.92\\ 1.37 2.95\\ 1.62 2.90\\ 1.86 2.93\\
6.45 0.83\\ 6.72 0.77\\ 7.00 0.82\\
6.12 0.93\\ 6.38 0.98\\ 6.64 0.91\\ 6.90 0.97\\ 7.16 0.94\\
5.90 1.13\\ 6.15 1.06\\ 6.40 1.11\\ 6.65 1.08\\ 6.90 1.14\\ 7.16 1.07\\
5.70 1.24\\ 5.95 1.29\\ 6.20 1.22\\ 6.45 1.27\\ 6.70 1.23\\ 6.95 1.28\\ 7.20 1.21\\
5.52 1.42\\ 5.77 1.38\\ 6.02 1.45\\ 6.27 1.39\\ 6.52 1.42\\ 6.77 1.35\\ 7.02 1.40\\
5.36 1.58\\ 5.61 1.51\\ 5.86 1.56\\ 6.11 1.53\\ 6.36 1.60\\ 6.61 1.54\\ 6.86 1.57\\ 7.10 1.50\\
5.21 1.69\\ 5.46 1.74\\ 5.71 1.67\\ 5.96 1.72\\ 6.21 1.68\\ 6.46 1.73\\ 6.71 1.66\\ 6.96 1.71\\
5.08 1.87\\ 5.33 1.83\\ 5.58 1.90\\ 5.83 1.84\\ 6.08 1.87\\ 6.33 1.80\\ 6.58 1.85\\ 6.83 1.89\\
4.97 2.03\\ 5.22 1.96\\ 5.47 2.01\\ 5.72 1.98\\ 5.97 2.05\\ 6.22 1.99\\ 6.47 2.02\\ 6.72 1.95\\
4.86 2.14\\ 5.11 2.19\\ 5.36 2.12\\ 5.61 2.17\\ 5.86 2.13\\ 6.11 2.18\\ 6.36 2.11\\ 6.61 2.16\\
4.77 2.32\\ 5.02 2.28\\ 5.27 2.35\\ 5.52 2.29\\ 5.77 2.32\\ 6.02 2.25\\ 6.27 2.30\\ 6.52 2.34\\
4.70 2.48\\ 4.95 2.41\\ 5.20 2.46\\ 5.45 2.43\\ 5.70 2.50\\ 5.95 2.44\\ 6.20 2.47\\ 6.44 2.40\\
4.64 2.59\\ 4.89 2.64\\ 5.14 2.57\\ 5.39 2.62\\ 5.64 2.58\\ 5.89 2.63\\ 6.14 2.56\\
4.60 2.77\\ 4.85 2.73\\ 5.10 2.80\\ 5.35 2.74\\ 5.60 2.77\\ 5.85 2.70\\ 6.10 2.75\\
4.60 2.93\\ 4.85 2.86\\ 5.10 2.91\\ 5.35 2.88\\ 5.60 2.95\\ 5.88 2.89\\
4.62 3.04\\ 4.88 3.09\\ 5.14 3.02\\ 5.40 3.07\\ 5.66 3.03\\
4.75 3.22\\ 5.03 3.18\\ 5.32 3.24\\
6.20 1.32\\ 6.48 1.34\\
5.92 1.47\\ 6.18 1.49\\ 6.44 1.45\\ 6.68 1.48\\
5.72 1.62\\ 5.97 1.64\\ 6.22 1.60\\ 6.47 1.63\\
5.55 1.77\\ 5.80 1.79\\ 6.05 1.75\\ 6.30 1.78\\ 6.55 1.80\\
5.42 1.92\\ 5.67 1.95\\ 5.92 1.90\\ 6.17 1.93\\ 6.42 1.95\\
5.32 2.07\\ 5.57 2.10\\ 5.82 2.05\\ 6.07 2.08\\ 6.32 2.10\\
5.22 2.22\\ 5.47 2.25\\ 5.72 2.20\\ 5.97 2.23\\ 6.22 2.25\\
5.17 2.37\\ 5.42 2.40\\ 5.67 2.35\\ 5.92 2.38\\
5.14 2.52\\ 5.39 2.55\\ 5.64 2.50\\ 5.88 2.53\\
5.20 2.67\\ 5.48 2.69\\
-1.00 0.55\\ -0.95 0.95\\ -1.05 1.35\\ -0.92 1.72\\ -1.00 2.10\\ -0.70 2.50\\ -1.28 0.80\\ -0.85 0.30\\ -1.20 1.95\\ -0.55 2.80\\ -1.35 1.35\\ -1.10 0.15\\
-0.40 2.95\\ -0.25 3.25\\ 0.00 3.45\\ 0.25 3.55\\ 0.50 3.80\\ -0.50 3.15\\ 0.10 3.30\\ 0.65 3.70\\ 0.35 3.35\\ -0.15 2.90\\ 0.20 3.95\\
0.95 3.95\\ 1.25 4.05\\ 1.50 3.90\\ 1.80 4.10\\ 2.10 3.95\\ 2.40 4.05\\ 2.65 3.85\\ 1.15 4.25\\ 2.25 4.25\\ 2.85 4.00\\ 0.75 3.85\\
2.90 3.60\\ 3.00 3.20\\ 2.95 2.85\\ 2.85 2.50\\ 2.80 2.15\\ 2.60 1.80\\ 2.45 1.45\\ 2.25 1.10\\ 2.10 0.75\\ 3.25 3.45\\ 3.20 2.95\\ 3.05 2.60\\ 2.75 1.55\\ 3.10 3.85\\
-0.55 0.30\\ -0.30 0.10\\ -0.05 0.05\\ 0.20 0.15\\ 0.50 0.05\\ 0.75 0.20\\ 1.05 0.30\\ 1.35 0.45\\ 1.60 0.55\\ 1.85 0.70\\ 0.25 -0.15\\ 0.90 0.00\\ 1.40 0.20\\ -0.45 -0.05\\
4.20 3.30\\ 4.35 3.60\\ 4.60 3.45\\ 4.30 2.95\\ 4.40 2.60\\ 4.50 2.20\\ 4.70 1.85\\ 4.95 1.55\\ 5.20 1.30\\ 5.50 1.05\\ 5.80 0.80\\ 6.10 0.60\\ 6.40 0.50\\ 6.75 0.45\\ 7.05 0.60\\ 7.35 0.85\\ 7.45 1.20\\ 7.40 1.55\\ 7.20 1.85\\ 7.00 2.20\\ 6.80 2.50\\ 6.55 2.80\\ 6.30 3.05\\ 6.00 3.25\\ 5.70 3.40\\ 5.40 3.50\\ 5.05 3.55\\ 4.80 3.70\\ 5.90 3.45\\ 7.55 1.00\\ 6.95 2.55\\ 4.55 1.55\\ 5.25 0.95\\ 6.60 0.25\\ 7.25 0.35\\
3.19 5.67\\ 3.73 5.20\\ 3.35 5.13\\ 3.18 4.89\\ 4.46 4.74\\ 1.22 4.63\\ 1.55 4.59\\ 0.91 4.56\\ 2.84 4.54\\ 0.55 4.29\\ 3.73 4.46\\ 3.76 4.30\\ 4.25 4.36\\ 4.14 4.40\\ 4.84 4.30\\ 3.12 4.13\\ 3.38 4.32\\ 3.08 4.33\\ 3.90 4.11\\ 4.18 4.00\\ 3.66 3.84\\ 3.83 3.94\\ 3.47 3.53\\ 4.11 3.65\\ 3.97 2.82\\ 4.18 2.16\\ 3.19 3.15\\ 3.05 2.28\\ 3.19 2.51\\ 2.91 1.58\\ 2.45 0.77\\ 1.86 0.19\\ 1.43 0.14\\ 1.22 -0.08\\ 0.49 -0.27\\ -0.04 -0.06\\ -0.42 -1.00\\ -0.96 -0.69\\ -0.91 -0.73\\ -1.34 -0.39\\ -1.76 0.23\\ -1.14 0.21\\ -0.93 0.12\\ -0.60 -0.23\\ -0.63 -0.14\\ -0.60 0.00\\ -1.14 1.78\\ -1.03 1.62\\ -0.82 2.28\\ -0.82 2.49\\ -0.60 2.95\\ -0.46 3.50\\ -0.60 3.36\\ -0.08 3.55\\ -0.32 3.11\\
8.72 0.43\\ 8.28 0.17\\ 8.26 -0.14\\ 7.83 -0.21\\ 7.83 -0.39\\ 8.14 -0.59\\ 8.00 -0.04\\ 7.76 0.04\\ 7.83 0.25\\ 7.69 0.33\\ 7.27 0.07\\ 7.41 0.37\\ 7.69 0.66\\ 7.65 0.95\\ 7.45 1.16\\ 6.96 0.54\\ 6.88 0.43\\ 7.27 1.83\\ 7.13 2.03\\ 6.08 3.28\\ 5.44 3.65\\ 5.16 3.61\\ 4.88 3.82\\ 4.60 3.61\\ 4.46 3.53\\ 4.29 3.36\\ 4.18 3.20\\ 4.39 3.07\\ 4.53 2.78\\ 4.46 2.53\\ 4.39 1.95\\
-1.50 1.72\\ -1.45 0.62\\ -1.30 2.40\\ -1.55 1.20\\
};
\end{axis}

% ---------------- captions
\node[anchor=base west, inner sep=0pt] at (3.3pt,14.2pt) {\parbox[t]{152.3pt}{\fontsize{10}{12}\selectfont (a) Reference distribution $\beta\sim$\linebreak Uniform$(0,1)^2$.}};
\node[anchor=base west, inner sep=0pt] at (182.6pt,14.2pt) {\parbox[t]{152.3pt}{\fontsize{10}{12}\selectfont (b) Single transport map collapses\linebreak to only one mode.}};
\node[anchor=base west, inner sep=0pt] at (361.2pt,14.2pt) {\parbox[t]{152.3pt}{\fontsize{10}{12}\selectfont (c) Transport Monte Carlo cor-\linebreak rectly sample the two modes.}};
\end{tikzpicture}
\end{document}
